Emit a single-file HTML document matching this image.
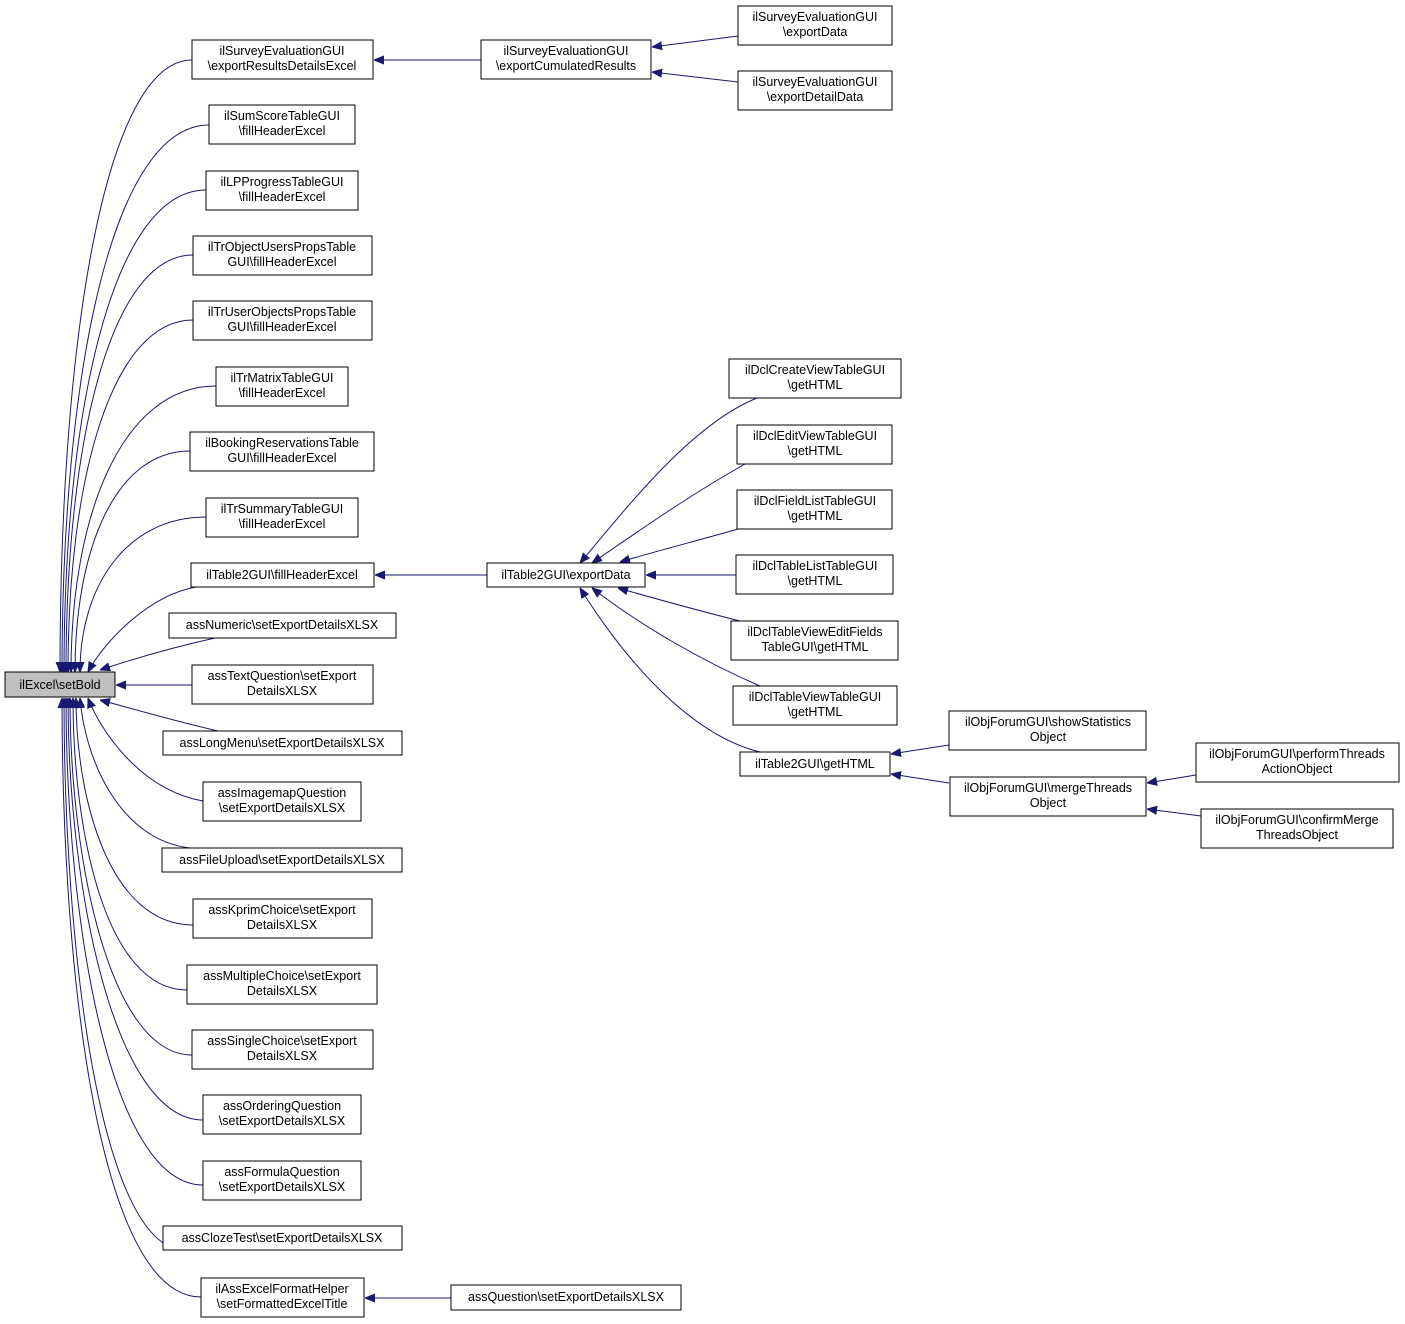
<!DOCTYPE html>
<html><head><meta charset="utf-8"><style>
html,body{margin:0;padding:0;background:#fff;}
svg{display:block;}
text{font-family:"Liberation Sans",Arial,sans-serif;font-size:12.5px;fill:#000;text-anchor:middle;}
rect{fill:#fff;stroke:#000;stroke-width:1;}
path{fill:none;stroke:#191970;stroke-width:1;}
</style></head><body>
<svg width="1405" height="1324" viewBox="0 0 1405 1324" xmlns="http://www.w3.org/2000/svg">
<defs><marker id="a" viewBox="0 0 10 10" refX="10" refY="5" markerWidth="10" markerHeight="10" markerUnits="userSpaceOnUse" orient="auto"><path d="M0,1 L10,5 L0,9 Z" style="fill:#191970;stroke:#191970"/></marker></defs>
<g marker-end="url(#a)">
<path d="M192,60 C106,60 60,335 60,672"/>
<path d="M209,125 C113,125 62,371 62,672"/>
<path d="M206,190 C114,190 64,407 64,672"/>
<path d="M193,255 C110,255 66,443 66,672"/>
<path d="M193,320 C112,320 68,478 68,672"/>
<path d="M216,386 C122,386 71,515 71,672"/>
<path d="M190,451 C115,451 75,550 75,672"/>
<path d="M206,517 C126,517 80,587 80,672"/>
<path d="M196,587 C150,595 105,640 88,672"/>
<path d="M215,638 C170,648 130,660 100,670"/>
<path d="M192,685 L116,685"/>
<path d="M218,731 C170,720 130,708 100,700"/>
<path d="M203,801 C140,790 100,730 88,698"/>
<path d="M190,848 C120,840 85,760 80,698"/>
<path d="M193,925 C110,925 76,800 76,698"/>
<path d="M187,990 C105,990 73,830 73,698"/>
<path d="M192,1055 C110,1055 70,860 70,698"/>
<path d="M203,1120 C115,1120 68,890 68,698"/>
<path d="M203,1185 C110,1185 66,920 66,698"/>
<path d="M183,1250 C100,1245 64,950 64,698"/>
<path d="M201,1297 C100,1297 62,980 62,698"/>
<path d="M481,60 L374,60"/>
<path d="M738,36 L652,47"/>
<path d="M738,82 L652,72"/>
<path d="M487,575 L375,575"/>
<path d="M451,1298 L365,1298"/>
<path d="M757,398 C690,425 625,510 580,563"/>
<path d="M745,464 C690,495 640,530 592,563"/>
<path d="M738,529 C700,540 660,550 620,562"/>
<path d="M736,575 L646,575"/>
<path d="M740,621 C700,611 660,600 618,588"/>
<path d="M760,686 C700,660 640,625 592,588"/>
<path d="M760,752 C690,735 625,660 580,588"/>
<path d="M949,745 L891,754"/>
<path d="M949,783 L891,774"/>
<path d="M1196,775 L1147,783"/>
<path d="M1201,816 L1147,809"/>
</g>
<rect x="5" y="672" width="110" height="25" style="fill:#bfbfbf"/><text x="60" y="689">ilExcel\setBold</text>

<rect x="192" y="40" width="181" height="39"/><text x="282" y="55">ilSurveyEvaluationGUI</text><text x="282" y="70">\exportResultsDetailsExcel</text>
<rect x="209" y="105" width="146" height="39"/><text x="282" y="120">ilSumScoreTableGUI</text><text x="282" y="135">\fillHeaderExcel</text>
<rect x="206" y="171" width="152" height="39"/><text x="282" y="186">ilLPProgressTableGUI</text><text x="282" y="201">\fillHeaderExcel</text>
<rect x="193" y="236" width="179" height="39"/><text x="282" y="251">ilTrObjectUsersPropsTable</text><text x="282" y="266">GUI\fillHeaderExcel</text>
<rect x="193" y="301" width="179" height="39"/><text x="282" y="316">ilTrUserObjectsPropsTable</text><text x="282" y="331">GUI\fillHeaderExcel</text>
<rect x="216" y="367" width="132" height="39"/><text x="282" y="382">ilTrMatrixTableGUI</text><text x="282" y="397">\fillHeaderExcel</text>
<rect x="190" y="432" width="184" height="39"/><text x="282" y="447">ilBookingReservationsTable</text><text x="282" y="462">GUI\fillHeaderExcel</text>
<rect x="206" y="498" width="152" height="39"/><text x="282" y="513">ilTrSummaryTableGUI</text><text x="282" y="528">\fillHeaderExcel</text>
<rect x="191" y="563" width="183" height="24"/><text x="282" y="579">ilTable2GUI\fillHeaderExcel</text>
<rect x="169" y="613" width="227" height="25"/><text x="282" y="629">assNumeric\setExportDetailsXLSX</text>
<rect x="192" y="665" width="181" height="39"/><text x="282" y="680">assTextQuestion\setExport</text><text x="282" y="695">DetailsXLSX</text>
<rect x="163" y="731" width="239" height="24"/><text x="282" y="747">assLongMenu\setExportDetailsXLSX</text>
<rect x="203" y="782" width="158" height="39"/><text x="282" y="797">assImagemapQuestion</text><text x="282" y="812">\setExportDetailsXLSX</text>
<rect x="162" y="848" width="240" height="24"/><text x="282" y="864">assFileUpload\setExportDetailsXLSX</text>
<rect x="193" y="899" width="179" height="39"/><text x="282" y="914">assKprimChoice\setExport</text><text x="282" y="929">DetailsXLSX</text>
<rect x="187" y="965" width="190" height="39"/><text x="282" y="980">assMultipleChoice\setExport</text><text x="282" y="995">DetailsXLSX</text>
<rect x="192" y="1030" width="181" height="39"/><text x="282" y="1045">assSingleChoice\setExport</text><text x="282" y="1060">DetailsXLSX</text>
<rect x="203" y="1095" width="158" height="39"/><text x="282" y="1110">assOrderingQuestion</text><text x="282" y="1125">\setExportDetailsXLSX</text>
<rect x="203" y="1161" width="158" height="39"/><text x="282" y="1176">assFormulaQuestion</text><text x="282" y="1191">\setExportDetailsXLSX</text>
<rect x="163" y="1226" width="239" height="24"/><text x="282" y="1242">assClozeTest\setExportDetailsXLSX</text>
<rect x="201" y="1278" width="163" height="39"/><text x="282" y="1293">ilAssExcelFormatHelper</text><text x="282" y="1308">\setFormattedExcelTitle</text>

<rect x="481" y="40" width="170" height="39"/><text x="566" y="55">ilSurveyEvaluationGUI</text><text x="566" y="70">\exportCumulatedResults</text>
<rect x="487" y="563" width="158" height="24"/><text x="566" y="579">ilTable2GUI\exportData</text>
<rect x="451" y="1285" width="230" height="25"/><text x="566" y="1301">assQuestion\setExportDetailsXLSX</text>

<rect x="738" y="6" width="154" height="39"/><text x="815" y="21">ilSurveyEvaluationGUI</text><text x="815" y="36">\exportData</text>
<rect x="738" y="71" width="154" height="39"/><text x="815" y="86">ilSurveyEvaluationGUI</text><text x="815" y="101">\exportDetailData</text>
<rect x="729" y="359" width="172" height="39"/><text x="815" y="374">ilDclCreateViewTableGUI</text><text x="815" y="389">\getHTML</text>
<rect x="737" y="425" width="155" height="39"/><text x="815" y="440">ilDclEditViewTableGUI</text><text x="815" y="455">\getHTML</text>
<rect x="737" y="490" width="155" height="39"/><text x="815" y="505">ilDclFieldListTableGUI</text><text x="815" y="520">\getHTML</text>
<rect x="736" y="555" width="157" height="39"/><text x="815" y="570">ilDclTableListTableGUI</text><text x="815" y="585">\getHTML</text>
<rect x="731" y="621" width="167" height="39"/><text x="815" y="636">ilDclTableViewEditFields</text><text x="815" y="651">TableGUI\getHTML</text>
<rect x="733" y="686" width="164" height="39"/><text x="815" y="701">ilDclTableViewTableGUI</text><text x="815" y="716">\getHTML</text>
<rect x="740" y="752" width="150" height="24"/><text x="815" y="768">ilTable2GUI\getHTML</text>

<rect x="949" y="711" width="197" height="39"/><text x="1048" y="726">ilObjForumGUI\showStatistics</text><text x="1048" y="741">Object</text>
<rect x="950" y="777" width="196" height="39"/><text x="1048" y="792">ilObjForumGUI\mergeThreads</text><text x="1048" y="807">Object</text>
<rect x="1196" y="743" width="203" height="39"/><text x="1297" y="758">ilObjForumGUI\performThreads</text><text x="1297" y="773">ActionObject</text>
<rect x="1201" y="809" width="192" height="39"/><text x="1297" y="824">ilObjForumGUI\confirmMerge</text><text x="1297" y="839">ThreadsObject</text>
</svg>
</body></html>
